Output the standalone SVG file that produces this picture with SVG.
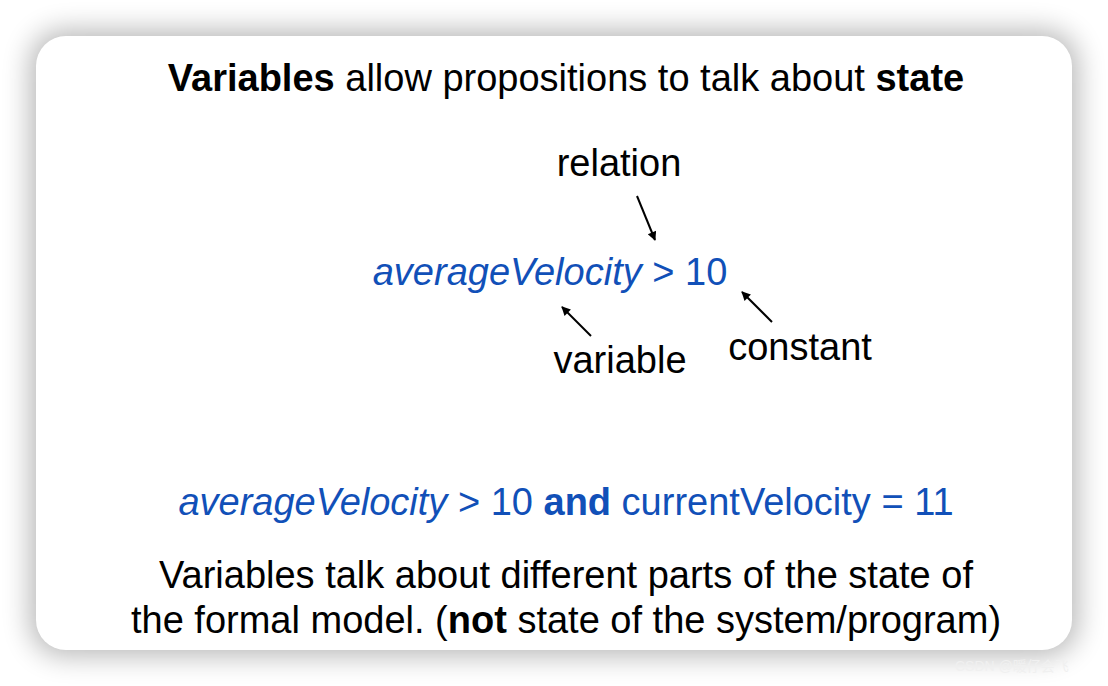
<svg xmlns="http://www.w3.org/2000/svg" width="1108" height="686" viewBox="0 0 1108 686">
<defs>
<filter id="sh" x="-10%" y="-10%" width="120%" height="120%">
<feGaussianBlur stdDeviation="14"/>
</filter>
<marker id="ah" viewBox="0 0 10 10" refX="9" refY="5" markerWidth="11" markerHeight="9" orient="auto" markerUnits="userSpaceOnUse">
<path d="M0,0 L10,5 L0,10 z" fill="#000"/>
</marker>
</defs>
<style>
text{font-family:"Liberation Sans",Arial,sans-serif;font-size:38px;fill:#000}
.b{font-weight:bold}
.blue{fill:#1150b8}
.i{font-style:italic}
.arr{stroke:#000;stroke-width:2;fill:none;marker-end:url(#ah)}
</style>
<rect width="1108" height="686" fill="#fff"/>
<rect x="30" y="30" width="1048" height="626" rx="34" fill="#000" opacity="0.28" filter="url(#sh)"/>
<rect x="36" y="36" width="1036" height="614" rx="30" fill="#fff"/>
<g id="title"><text x="566" y="91" text-anchor="middle"><tspan class="b">Variables</tspan> allow propositions to talk about <tspan class="b">state</tspan></text></g>
<g id="relation"><text x="619" y="176" text-anchor="middle">relation</text></g>
<g id="expr"><text x="550" y="285" text-anchor="middle" class="blue"><tspan class="i">averageVelocity</tspan> &gt; 10</text></g>
<g id="variable"><text x="620" y="373" text-anchor="middle">variable</text></g>
<g id="constant"><text x="800" y="360" text-anchor="middle">constant</text></g>
<g id="connectors">
<line class="arr" x1="637" y1="196" x2="655" y2="240"/>
<line class="arr" x1="591" y1="336" x2="562" y2="307"/>
<line class="arr" x1="772" y1="322" x2="742" y2="292"/>
</g>
<g id="expr2"><text x="566" y="515" text-anchor="middle" class="blue"><tspan class="i">averageVelocity</tspan> &gt; 10 <tspan class="b">and</tspan> currentVelocity = 11</text></g>
<g id="note"><text x="566" y="588" text-anchor="middle">Variables talk about different parts of the state of</text>
<text x="566" y="633" text-anchor="middle">the formal model. (<tspan class="b">not</tspan> state of the system/program)</text></g>
<text x="955" y="671" style="font-size:14px;fill:#f0f0f0;font-family:'Liberation Sans','Noto Sans CJK SC',sans-serif">CSDN @暖仔会飞</text>
</svg>
